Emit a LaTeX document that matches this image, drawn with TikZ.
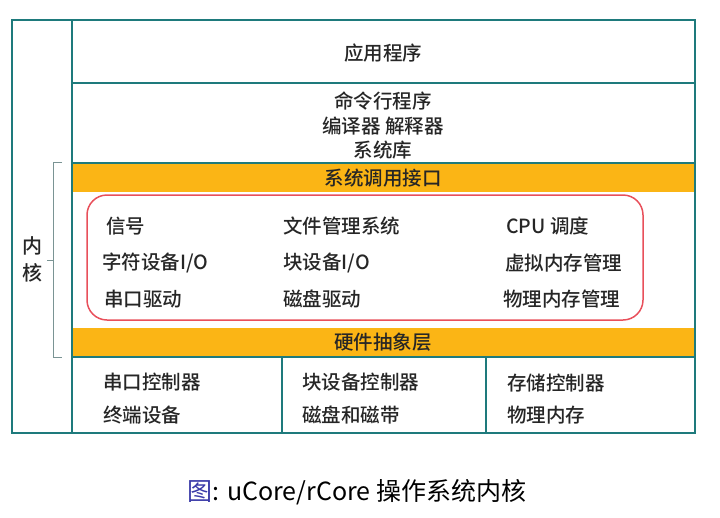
\documentclass[tikz,border=0pt]{standalone}
\usepackage{fontspec}
\setmainfont{Noto Sans CJK SC}[UprightFont={* Medium}]
\newfontfamily\capfont{Noto Sans CJK SC}
\definecolor{tealline}{HTML}{1E7A7C}
\definecolor{bandorange}{HTML}{FBB515}
\definecolor{redline}{HTML}{E8505B}
\definecolor{bracegray}{HTML}{7A9494}
\definecolor{capblue}{HTML}{3A3AA8}
\definecolor{txtgray}{HTML}{262626}
\begin{document}
\begin{tikzpicture}[x=1pt,y=-1pt,
  frame/.style={draw=tealline, line width=1.8pt},
  lbl/.style={font=\fontsize{19.5}{22}\selectfont, text=txtgray, inner sep=0pt},
  lbll/.style={lbl, anchor=west},
  ]
\useasboundingbox (0,0) rectangle (720,517);
% orange bands
\fill[bandorange] (72,163) rectangle (695,192);
\fill[bandorange] (72,328) rectangle (695,357);
% frame
\draw[frame] (12,20) rectangle (695,433);
\draw[frame] (72,20) -- (72,433);
\draw[frame] (72,83) -- (695,83);
\draw[frame] (72,163) -- (695,163);
\draw[frame] (72,357) -- (695,357);
\draw[frame] (282,357) -- (282,433);
\draw[frame] (486,357) -- (486,433);
% red rounded box
\draw[redline, line width=1.5pt, rounded corners=20pt] (87,195) rectangle (643,320);
% brace
\draw[bracegray, line width=1pt] (62,162) -- (53,162) -- (53,357) -- (62,357);
\draw[bracegray, line width=1pt] (47,260) -- (53,260);
\node[lbl, align=center, font=\fontsize{20}{27}\selectfont] (kern) at (33,259) {内\\核};
% rows
\node[lbl] (app) at (383,53) {应用程序};
\node[lbl] (cmd) at (383,101) {命令行程序};
\node[lbl] (comp) at (383,126) {编译器 解释器};
\node[lbl] (lib) at (383,150) {系统库};
\node[lbl] (sys) at (383,178) {系统调用接口};
\node[lbl] (hal) at (383,342) {硬件抽象层};
% kernel items
\node[lbll] (sig) at (106,226) {信号};
\node[lbll] (chr) at (102,263) {字符设备I/O};
\node[lbll] (ser) at (104,299) {串口驱动};
\node[lbll] (fs) at (283,226) {文件管理系统};
\node[lbll] (blk) at (283,263) {块设备I/O};
\node[lbll] (disk) at (283,299) {磁盘驱动};
\node[lbll] (cpu) at (506,226) {CPU 调度};
\node[lbll] (vm) at (505,263) {虚拟内存管理};
\node[lbll] (pm) at (503,299) {物理内存管理};
% bottom row
\node[lbll] (serc) at (103,382) {串口控制器};
\node[lbll] (term) at (103,415) {终端设备};
\node[lbll] (blkc) at (302,382) {块设备控制器};
\node[lbll] (tape) at (302,415) {磁盘和磁带};
\node[lbll] (stc) at (507,383) {存储控制器};
\node[lbll] (mem) at (507,415) {物理内存};
% caption
\node[lbl, font=\capfont\fontsize{25}{28}\selectfont, text=black] (cap) at (357,492) {\textcolor{capblue}{图}: uCore/rCore 操作系统内核};
\end{tikzpicture}
\end{document}
